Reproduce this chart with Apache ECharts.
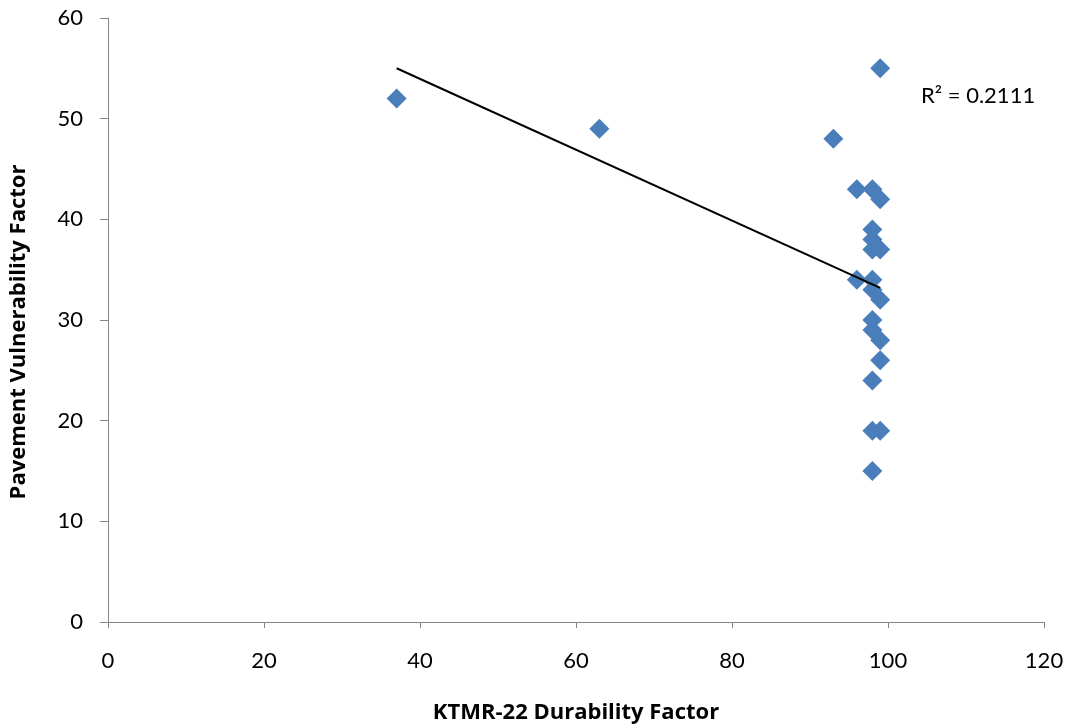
<!DOCTYPE html>
<html>
<head>
<meta charset="utf-8">
<script src="https://cdn.jsdelivr.net/npm/echarts@6/dist/echarts.min.js"></script>
<style>
  html, body { margin: 0; padding: 0; background: #fff; }
  #chart { width: 1072px; height: 725px; }
</style>
</head>
<body>
<div id="chart"></div>
<script>
// KTMR-22 durability factor vs. pavement vulnerability factor
const durability = [37, 63, 93, 99, 96, 98, 99, 98, 98, 98, 99, 96, 98, 98, 99, 98, 98, 99, 99, 98, 98, 99, 98];
const vulnerability = [52, 49, 48, 55, 43, 43, 42, 39, 38, 37, 37, 34, 34, 33, 32, 30, 29, 28, 26, 24, 19, 19, 15];
const xTicks = [0, 20, 40, 60, 80, 100, 120];
const yTicks = [0, 10, 20, 30, 40, 50, 60];
const r2Label = 'R² = 0.2111';

const points = durability.map((x, i) => [x, vulnerability[i]]);

// Least-squares linear trendline over the data range
const n = points.length;
const mx = durability.reduce((a, b) => a + b, 0) / n;
const my = vulnerability.reduce((a, b) => a + b, 0) / n;
let sxy = 0, sxx = 0;
for (let i = 0; i < n; i++) {
  sxy += (durability[i] - mx) * (vulnerability[i] - my);
  sxx += (durability[i] - mx) ** 2;
}
const slope = sxy / sxx;
const intercept = my - slope * mx;
const xMin = Math.min(...durability), xMax = Math.max(...durability);
const trend = [[xMin, intercept + slope * xMin], [xMax, intercept + slope * xMax]];

const tickFont = 'Lato, "Open Sans", sans-serif';
const titleFont = '"Open Sans", Lato, sans-serif';
const chart = echarts.init(document.getElementById('chart'));
chart.setOption({
  animation: false,
  grid: { left: 108, right: 28, top: 18, bottom: 103, containLabel: false, outerBoundsMode: 'none' },
  xAxis: {
    type: 'value',
    min: xTicks[0], max: xTicks[xTicks.length - 1], interval: 20,
    name: 'KTMR-22 Durability Factor',
    nameLocation: 'middle', nameGap: 80,
    nameTextStyle: { fontFamily: titleFont, fontWeight: 'bold', fontSize: 22, color: '#000' },
    axisLine: { show: true, lineStyle: { color: '#868686', width: 1 } },
    axisTick: { show: true, length: 6, lineStyle: { color: '#868686' } },
    axisLabel: { margin: 28, fontFamily: tickFont, fontSize: 22, color: '#000' },
    splitLine: { show: false }
  },
  yAxis: {
    type: 'value',
    min: yTicks[0], max: yTicks[yTicks.length - 1], interval: 10,
    name: 'Pavement Vulnerability Factor',
    nameLocation: 'middle', nameGap: 78,
    nameTextStyle: { fontFamily: titleFont, fontWeight: 'bold', fontSize: 22, color: '#000', padding: [0, 24, 0, 0] },
    axisLine: { show: true, lineStyle: { color: '#868686', width: 1 } },
    axisTick: { show: true, length: 8, lineStyle: { color: '#868686' } },
    axisLabel: { margin: 25, fontFamily: tickFont, fontSize: 22, color: '#000' },
    splitLine: { show: false }
  },
  series: [
    {
      type: 'scatter',
      data: points,
      symbol: 'diamond',
      symbolSize: 20,
      itemStyle: { color: '#4a7ebb', opacity: 1 },
      z: 2
    },
    {
      type: 'line',
      data: trend,
      symbol: 'none',
      lineStyle: { color: '#000', width: 2 },
      z: 3
    }
  ],
  graphic: [{
    type: 'text',
    left: 921, top: 85,
    style: { text: r2Label, font: '22px ' + tickFont, fill: '#000' }
  }]
});
</script>
</body>
</html>
